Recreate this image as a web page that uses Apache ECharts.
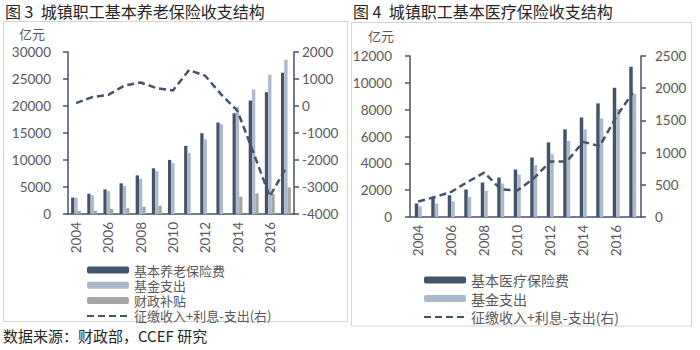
<!DOCTYPE html>
<html><head><meta charset="utf-8">
<script src="https://cdn.jsdelivr.net/npm/echarts@6/dist/echarts.min.js"></script>
<style>html,body{margin:0;padding:0;background:#fff}#c{width:700px;height:350px}</style>
</head><body><div id="c"></div>
<script>
const years = ['2004','2005','2006','2007','2008','2009','2010','2011','2012','2013','2014','2015','2016','2017'];
// 图3 城镇职工基本养老保险
const pensionIncome  = [3050, 3760, 4560, 5680, 7160, 8460, 10020, 12610, 14950, 16940, 18660, 21020, 22560, 26150];
const pensionExpense = [3000, 3480, 4250, 5180, 6530, 7950, 9400, 11280, 13840, 16620, 19780, 23060, 25780, 28570];
const pensionSubsidy = [555, 610, 925, 1050, 1350, 1540, null, null, null, null, 3200, 3800, 3700, 4930];
const pensionNet     = [107, 330, 415, 760, 870, 660, 575, 1330, 1120, 420, -180, -1750, -3350, -2300];
// 图4 城镇职工基本医疗保险
const medIncome  = [1000, 1420, 1620, 2050, 2570, 2940, 3540, 4440, 5560, 6530, 7420, 8470, 9640, 11200];
const medExpense = [800, 1000, 1170, 1500, 1950, 2490, 3170, 3860, 4680, 5680, 6530, 7350, 8050, 9170];
const medNet     = [240, 310, 390, 545, 690, 430, 410, 600, 860, 860, 1167, 1100, 1556, 1930];

const DARK = '#44546a', LIGHT = '#acb9ca', GRAY = '#a5a5a5', TXT = '#595959';
const NUMFONT = 'Lato';
const CJK = '"Noto Sans CJK SC", "Noto Sans", sans-serif';

function xAxis(gi) {
  return {
    type: 'category', gridIndex: gi, data: years, boundaryGap: true,
    axisLine: { lineStyle: { color: DARK, width: 1.5 } },
    axisTick: { interval: 1, length: 5, lineStyle: { color: DARK, width: 1.5 } },
    axisLabel: { interval: 1, rotate: 90, margin: 8, color: TXT, fontSize: 13.5, fontFamily: NUMFONT }
  };
}
function yAxis(gi, pos, min, max, interval, margin) {
  return {
    type: 'value', gridIndex: gi, position: pos, min, max, interval,
    axisLine: { show: true, lineStyle: { color: DARK, width: 1.5 } },
    axisTick: { show: true, length: 5, lineStyle: { color: DARK, width: 1.5 } },
    splitLine: { show: false },
    axisLabel: { color: TXT, fontSize: 13.5, fontFamily: NUMFONT, margin, formatter: v => String(v) }
  };
}
const barBase = { type: 'bar', barWidth: 3.3, barGap: '0%' };
const lineBase = {
  type: 'line', symbol: 'none', smooth: false,
  lineStyle: { color: DARK, width: 2.5, type: [7, 4] }, itemStyle: { color: DARK }
};

const chart = echarts.init(document.getElementById('c'), null, { renderer: 'svg' });
chart.setOption({
  animation: false,
  backgroundColor: '#fff',
  grid: [
    { left: 68, top: 52, width: 226, height: 162 },
    { left: 410, top: 56, width: 231, height: 161 }
  ],
  xAxis: [xAxis(0), xAxis(1)],
  yAxis: [
    yAxis(0, 'left', 0, 30000, 5000, 17),
    yAxis(0, 'right', -4000, 2000, 1000, 8),
    yAxis(1, 'left', 0, 12000, 2000, 18),
    yAxis(1, 'right', 0, 2500, 500, 14)
  ],
  legend: [
    {
      orient: 'vertical', left: 86, top: 262.5, padding: 0, itemWidth: 42, itemHeight: 7, itemGap: 0.3,
      textStyle: { color: TXT, fontSize: 13, lineHeight: 15, fontFamily: CJK },
      data: ['基本养老保险费', '基金支出', '财政补贴', { name: '征缴收入+利息-支出(右)', itemStyle: { opacity: 0 } }],
      selectedMode: false
    },
    {
      orient: 'vertical', left: 423, top: 272, padding: 0, itemWidth: 42, itemHeight: 7, itemGap: 2.5,
      textStyle: { color: TXT, fontSize: 14, lineHeight: 16, fontFamily: CJK },
      data: ['基本医疗保险费', '基金支出 ', { name: '征缴收入+利息-支出(右) ', itemStyle: { opacity: 0 } }],
      selectedMode: false
    }
  ],
  series: [
    Object.assign({}, barBase, { name: '基本养老保险费', xAxisIndex: 0, yAxisIndex: 0, data: pensionIncome, itemStyle: { color: DARK } }),
    Object.assign({}, barBase, { name: '基金支出', xAxisIndex: 0, yAxisIndex: 0, data: pensionExpense, itemStyle: { color: LIGHT } }),
    Object.assign({}, barBase, { name: '财政补贴', xAxisIndex: 0, yAxisIndex: 0, data: pensionSubsidy, itemStyle: { color: GRAY } }),
    Object.assign({}, lineBase, { name: '征缴收入+利息-支出(右)', xAxisIndex: 0, yAxisIndex: 1, data: pensionNet }),
    Object.assign({}, barBase, { name: '基本医疗保险费', barWidth: 3.5, xAxisIndex: 1, yAxisIndex: 2, data: medIncome, itemStyle: { color: DARK } }),
    Object.assign({}, barBase, { name: '基金支出 ', barWidth: 3.5, xAxisIndex: 1, yAxisIndex: 2, data: medExpense, itemStyle: { color: LIGHT } }),
    Object.assign({}, lineBase, { name: '征缴收入+利息-支出(右) ', xAxisIndex: 1, yAxisIndex: 3, data: medNet })
  ],
  graphic: [
    { type: 'rect', shape: { x: 3.5, y: 21.5, width: 344, height: 300 }, style: { fill: null, stroke: '#d4d4d4', lineWidth: 1 }, silent: true },
    { type: 'rect', shape: { x: 351.5, y: 22.5, width: 340, height: 303.5 }, style: { fill: null, stroke: '#d4d4d4', lineWidth: 1 }, silent: true },
    { type: 'text', left: 5, top: 3, style: { text: '图 3  城镇职工基本养老保险收支结构', font: '16px ' + CJK, fill: '#262626' } },
    { type: 'text', left: 353, top: 3, style: { text: '图 4  城镇职工基本医疗保险收支结构', font: '16px ' + CJK, fill: '#262626' } },
    { type: 'text', left: 19, top: 27, style: { text: '亿元', font: '13px ' + CJK, fill: TXT } },
    { type: 'text', left: 368, top: 29, style: { text: '亿元', font: '13px ' + CJK, fill: TXT } },
    { type: 'text', left: 3, top: 328, style: { text: '数据来源：财政部，CCEF 研究', font: '15px ' + CJK, fill: '#262626' } }
  ]
});
</script></body></html>
